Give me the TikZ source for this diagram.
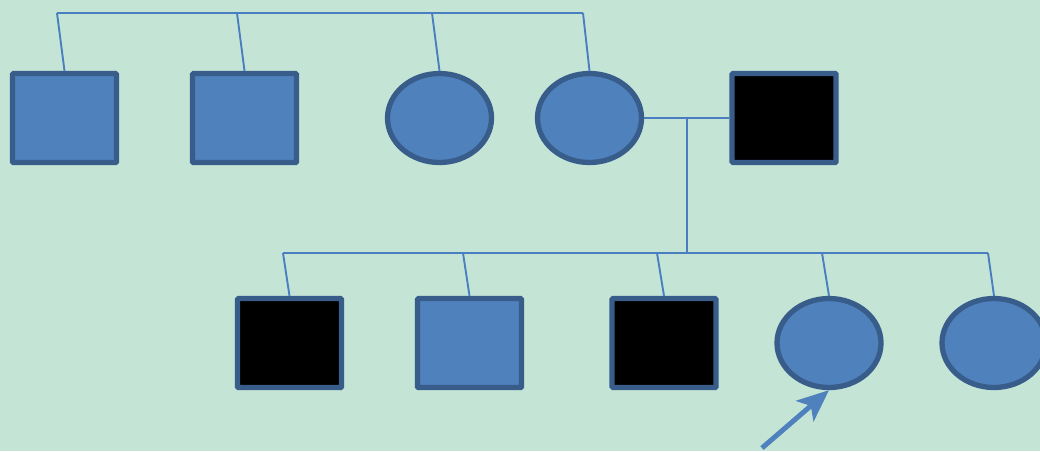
\documentclass[tikz,border=0pt]{standalone}
\usetikzlibrary{shapes.geometric,arrows.meta}
\definecolor{bgmint}{RGB}{196,229,214}
\definecolor{symfill}{RGB}{79,129,189}
\definecolor{symedge}{RGB}{56,93,138}
\definecolor{linkblue}{RGB}{74,126,193}
\tikzset{
  person/.style={draw=symedge, line width=5.3pt, inner sep=0pt,
    minimum width=104pt, minimum height=89pt},
  male/.style={person, rectangle, rounded corners=1pt, fill=symfill},
  female/.style={person, ellipse, fill=symfill},
  affected/.style={person, rectangle, rounded corners=1pt, fill=black},
  link/.style={draw=linkblue, line width=1.9pt},
  proband/.style={draw=symfill, line width=5pt,
    -{Stealth[length=32pt,width=27pt,inset=8pt]}}
}
\begin{document}
\begin{tikzpicture}[x=1pt,y=-1pt]
  % page and background
  \fill[bgmint] (0,0) rectangle (1040,451);
  \useasboundingbox (0,0) rectangle (1040,451);
  \clip (0,0) rectangle (1040,451);

  % parents' generation
  \node[male]     (g1a) at (64.5,118) {};
  \node[male]     (g1b) at (244.5,118) {};
  \node[female]   (g1c) at (439.5,118) {};
  \node[female]   (g1d) at (589.5,118) {};
  \node[affected] (g1e) at (784,118) {};

  % children's generation
  \node[affected] (g2a) at (289.5,343) {};
  \node[male]     (g2b) at (469.5,343) {};
  \node[affected] (g2c) at (664,343) {};
  \node[female]   (g2d) at (829,343) {};
  \node[female]   (g2e) at (994,343) {};

  % sibship line of the upper generation
  \coordinate (t1) at (57,13);
  \coordinate (t2) at (237,13);
  \coordinate (t3) at (432,13);
  \coordinate (t4) at (583,13);
  \draw[link] (t1) -- (t4);
  \draw[link] (t1) -- (g1a.north);
  \draw[link] (t2) -- (g1b.north);
  \draw[link] (t3) -- (g1c.north);
  \draw[link] (t4) -- (g1d.north);

  % mating line and descent line
  \draw[link] (g1d.east) -- (g1e.west);
  \coordinate (m) at (687,118);
  \coordinate (d) at (687,253);
  \draw[link] (m) -- (d);

  % sibship line of the lower generation
  \coordinate (b1) at (283,253);
  \coordinate (b2) at (463,253);
  \coordinate (b3) at (657,253);
  \coordinate (b4) at (822,253);
  \coordinate (b5) at (988,253);
  \draw[link] (b1) -- (b5);
  \draw[link] (b1) -- (g2a.north);
  \draw[link] (b2) -- (g2b.north);
  \draw[link] (b3) -- (g2c.north);
  \draw[link] (b4) -- (g2d.north);
  \draw[link] (b5) -- (g2e.north);

  % proband arrow
  \coordinate (ptail) at (762,448);
  \draw[proband] (ptail) -- (g2d.south);
\end{tikzpicture}
\end{document}
